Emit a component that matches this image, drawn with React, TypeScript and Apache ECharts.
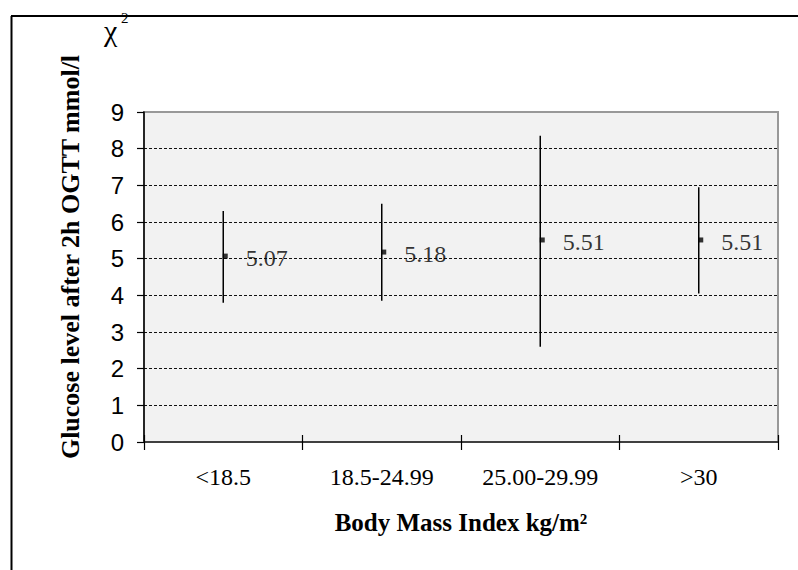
import React, { useEffect, useRef } from "react";
import * as echarts from "echarts";

const categories = ["<18.5", "18.5-24.99", "25.00-29.99", ">30"];
const means = [5.07, 5.18, 5.51, 5.51];
const upper = [6.3, 6.5, 8.35, 6.95];
const lower = [3.8, 3.85, 2.6, 4.05];
const yMin = 0;
const yMax = 9;
const yInterval = 1;
const yAxisTitle = "Glucose level after 2h OGTT mmol/l";
const xAxisTitle = "Body Mass Index kg/m²";

const SERIF = '"Liberation Serif", "Times New Roman", serif';
const SANS = '"Liberation Sans", Arial, sans-serif';

export default function App() {
  const ref = useRef<HTMLDivElement>(null);
  useEffect(() => {
    if (!ref.current) return;
    const chart = echarts.init(ref.current, null, { renderer: "svg" });
    const splitColors: string[] = [];
    for (let v = yMin; v <= yMax; v += yInterval) {
      splitColors.push(v === yMin || v === yMax ? "rgba(0,0,0,0)" : "#111");
    }
    chart.setOption({
      animation: false,
      backgroundColor: "#fff",
      grid: {
        left: 144,
        right: 20,
        top: 112,
        bottom: 128,
        show: true,
        backgroundColor: "#f2f2f2",
        borderColor: "#999",
        borderWidth: 2,
      },
      xAxis: [
        {
          type: "category",
          data: categories,
          boundaryGap: true,
          axisLine: { show: true, lineStyle: { color: "#404040", width: 2 } },
          axisTick: { show: true, inside: false, length: 8, lineStyle: { color: "#000", width: 1.2 } },
          axisLabel: {
            color: "#000",
            fontFamily: SERIF,
            fontSize: 24,
            margin: 23,
          },
          splitLine: { show: false },
        },
        {
          type: "category",
          data: categories,
          boundaryGap: true,
          position: "bottom",
          axisLine: { show: false },
          axisTick: { show: true, inside: true, length: 7, lineStyle: { color: "#000", width: 1.2 } },
          axisLabel: { show: false },
          splitLine: { show: false },
        },
      ],
      yAxis: {
        type: "value",
        min: yMin,
        max: yMax,
        interval: yInterval,
        axisLine: { show: true, lineStyle: { color: "#000", width: 1.5 } },
        axisTick: { show: true, inside: false, length: 7, lineStyle: { color: "#000", width: 1.2 } },
        axisLabel: { color: "#000", fontFamily: SANS, fontSize: 24, margin: 20 },
        splitLine: {
          show: true,
          lineStyle: { color: splitColors, type: [3, 2], width: 1 },
        },
      },
      series: [
        {
          type: "custom",
          xAxisIndex: 0,
          renderItem: (params: any, api: any) => {
            const x = api.value(0);
            const lo = api.coord([x, api.value(1)]);
            const hi = api.coord([x, api.value(2)]);
            return {
              type: "line",
              shape: { x1: lo[0], y1: lo[1], x2: hi[0], y2: hi[1] },
              style: { stroke: "#000", lineWidth: 1.5 },
            };
          },
          encode: { x: 0, y: [1, 2] },
          data: categories.map((_, i) => [i, lower[i], upper[i]]),
          z: 3,
        },
        {
          type: "scatter",
          xAxisIndex: 0,
          data: means,
          symbol: "rect",
          symbolSize: 5,
          symbolOffset: [2, 0],
          itemStyle: { color: "#000" },
          label: {
            show: true,
            position: "right",
            distance: 18,
            offset: [0, 2],
            formatter: (p: any) => means[p.dataIndex].toFixed(2),
            color: "#000",
            fontFamily: SERIF,
            fontSize: 24,
          },
          z: 4,
        },
      ],
      graphic: [
        {
          type: "line",
          shape: { x1: 11, y1: 16, x2: 798, y2: 16 },
          style: { stroke: "#000", lineWidth: 2 },
        },
        {
          type: "line",
          shape: { x1: 11.5, y1: 16, x2: 11.5, y2: 570 },
          style: { stroke: "#000", lineWidth: 2 },
        },
        {
          type: "text",
          x: 70,
          y: 257,
          rotation: Math.PI / 2,
          style: {
            text: yAxisTitle,
            font: `bold 26px ${SERIF}`,
            fill: "#000",
            textAlign: "center",
            textVerticalAlign: "middle",
          },
        },
        {
          type: "text",
          x: 461,
          y: 522,
          style: {
            text: xAxisTitle,
            font: `bold 25px ${SERIF}`,
            fill: "#000",
            textAlign: "center",
            textVerticalAlign: "middle",
          },
        },
        {
          type: "text",
          x: 104,
          y: 30,
          style: {
            text: "χ",
            font: `30px ${SERIF}`,
            fill: "#000",
            textAlign: "left",
            textVerticalAlign: "middle",
          },
        },
        {
          type: "text",
          x: 121,
          y: 18,
          style: {
            text: "2",
            font: `15px ${SERIF}`,
            fill: "#000",
            textAlign: "left",
            textVerticalAlign: "middle",
          },
        },
      ],
    });
    return () => chart.dispose();
  }, []);
  return (
    <div
      ref={ref}
      style={{ position: "absolute", left: 0, top: 0, width: 798, height: 570 }}
    />
  );
}
